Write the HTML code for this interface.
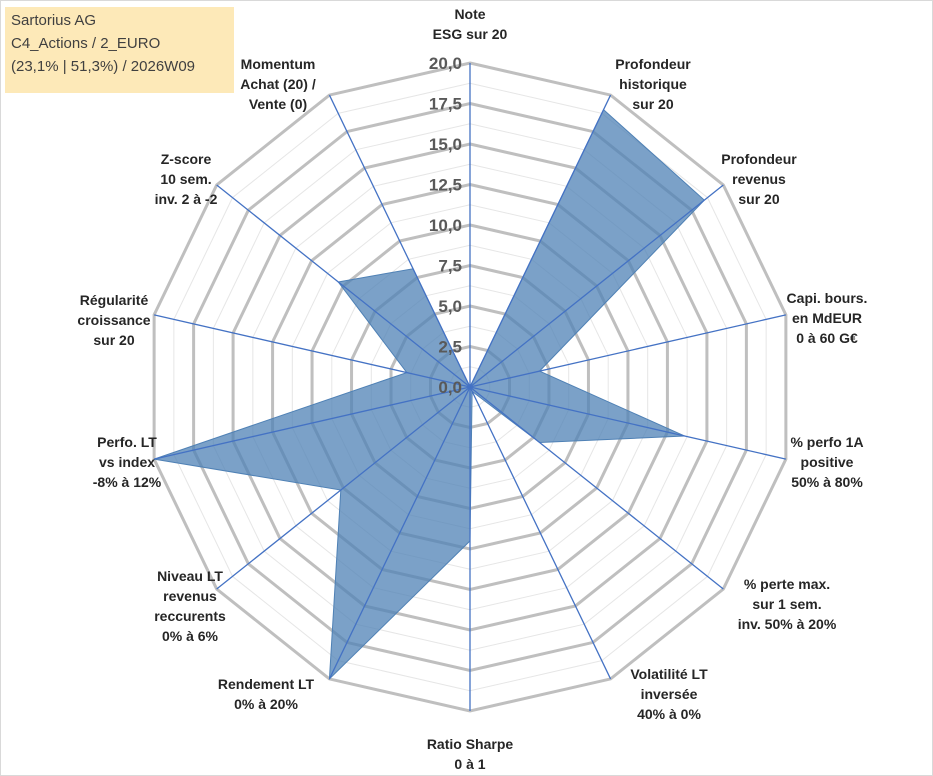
<!DOCTYPE html>
<html><head><meta charset="utf-8"><style>
html,body{margin:0;padding:0;background:#fff;}
#wrap{position:relative;width:933px;height:776px;overflow:hidden;font-family:"Liberation Sans",sans-serif;border:1px solid #d9d9d9;box-sizing:border-box;}
#title{position:absolute;left:4px;top:6px;width:229px;height:86px;background:#fde9b8;font-size:15px;line-height:23px;color:#404040;padding:2px 0 0 6px;box-sizing:border-box;}
</style></head><body>
<div id="wrap">
<svg id="chart" width="933" height="776"></svg>
<div id="title">Sartorius AG<br>C4_Actions / 2_EURO<br>(23,1% | 51,3%) / 2026W09</div>
</div>
<script>
const categories = ["Note|ESG sur 20","Profondeur|historique|sur 20","Profondeur|revenus|sur 20","Capi. bours.|en MdEUR|0 à 60 G€","% perfo 1A|positive|50% à 80%","% perte max.|sur 1 sem.|inv. 50% à 20%","Volatilité LT|inversée|40% à 0%","Ratio Sharpe|0 à 1","Rendement LT|0% à 20%","Niveau LT|revenus|reccurents|0% à 6%","Perfo. LT|vs index|-8% à 12%","Régularité|croissance|sur 20","Z-score|10 sem.|inv. 2 à -2","Momentum|Achat (20) /|Vente (0)"];
const values = [0, 19, 18.5, 4.4, 13.6, 5.5, 0.3, 9.5, 20, 10.2, 20, 4.0, 10.4, 8.1];
const tickLabels = ["0,0","2,5","5,0","7,5","10,0","12,5","15,0","17,5","20,0"];
const maxVal = 20;
const labelPos = [[469,18],[652,68],[758,163],[826,302],[826,446],[786,588],[668,678],[469,748],[265,688],[189,580],[126,446],[113,304],[185,163],[277,68]];

const NS="http://www.w3.org/2000/svg";
const svg=document.getElementById('chart');
const cx=469, cy=386, R=324, N=categories.length;
function ang(i){return i*2*Math.PI/N;}
function pt(i,v){const r=v/maxVal*R;return [cx+r*Math.sin(ang(i)), cy-r*Math.cos(ang(i))];}
function mk(tag,attrs){const e=document.createElementNS(NS,tag);for(const k in attrs)e.setAttribute(k,attrs[k]);svg.appendChild(e);return e;}
// grid
for(let k=1;k<=16;k++){
  const v=k*1.25, major=k%2===0;
  const p=[];for(let i=0;i<N;i++)p.push(pt(i,v).join(','));
  const g=mk('polygon',{points:p.join(' '),fill:'none',stroke:major?'#bfbfbf':'#e6e6e6','stroke-width':major?3:1});
  
  
}
// series
const sp=[];for(let i=0;i<N;i++)sp.push(pt(i,values[i]).join(','));
const area=mk('polygon',{points:sp.join(' '),fill:'#4f81b5','fill-opacity':'0.75',stroke:'#4f81b5','stroke-width':1});


// spokes
for(let i=0;i<N;i++){
  const [x,y]=pt(i,maxVal);
  const l=mk('line',{x1:cx,y1:cy,x2:x,y2:y,stroke:'#4472c4','stroke-width':1.3});
  
  
}
// ticks
tickLabels.forEach((t,k)=>{
  const v=k*2.5;
  const tx=mk('text',{x:cx-8,y:cy-v/maxVal*R+6,'text-anchor':'end','font-size':17,'font-weight':'bold',fill:'#595959'});
  tx.textContent=t;
  
  
});
// category labels
categories.forEach((c,i)=>{
  const lines=c.split('|');
  const [x,y]=labelPos[i];
  const t=mk('text',{x:x,y:y,'text-anchor':'middle','font-size':14,'font-weight':'bold',fill:'#262626'});
  lines.forEach((s,j)=>{const ts=document.createElementNS(NS,'tspan');ts.setAttribute('x',x);ts.setAttribute('dy',j?20:0);ts.textContent=s;t.appendChild(ts);});
  
  
});
</script>
</body></html>
